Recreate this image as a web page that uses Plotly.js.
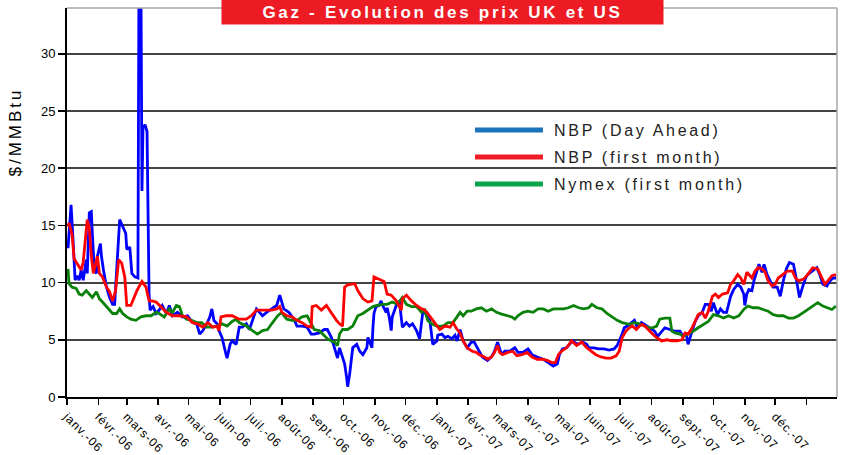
<!DOCTYPE html>
<html>
<head>
<meta charset="utf-8">
<script src="https://cdn.plot.ly/plotly-3.0.1.min.js"></script>
<style>
  html, body { margin: 0; padding: 0; background: #fff; }
  #chart { width: 844px; height: 455px; }
  g.annotation[data-index="0"] text { letter-spacing: 2.7px; }
  g.annotation[data-index="1"] text, g.annotation[data-index="1"] tspan { letter-spacing: 3px; }
  g.annotation[data-index="2"] text,
  g.annotation[data-index="3"] text,
  g.annotation[data-index="4"] text { letter-spacing: 2.7px; }
  .xtick text { letter-spacing: 1px; }
</style>
</head>
<body>
<div id="chart"></div>
<script>
// ---- Data ----
const tickDates = ['2006-01-01','2006-02-01','2006-03-01','2006-04-01','2006-05-01','2006-06-01','2006-07-01','2006-08-01','2006-09-01','2006-10-01','2006-11-01','2006-12-01',
  '2007-01-01','2007-02-01','2007-03-01','2007-04-01','2007-05-01','2007-06-01','2007-07-01','2007-08-01','2007-09-01','2007-10-01','2007-11-01','2007-12-01','2008-01-01'];
const tickLabels = ['janv.-06','févr.-06','mars-06','avr.-06','mai-06','juin-06','juil.-06','août-06','sept.-06','oct.-06','nov.-06','déc.-06',
  'janv.-07','févr.-07','mars-07','avr.-07','mai-07','juin-07','juil.-07','août-07','sept.-07','oct.-07','nov.-07','déc.-07','janv.-08'];
const yTicks = [0, 5, 10, 15, 20, 25, 30];

const seriesNames = ['NBP (Day Ahead)', 'NBP (first month)', 'Nymex (first month)'];

const blueDates = ['2006-01-02','2006-01-05','2006-01-07','2006-01-09','2006-01-11','2006-01-13','2006-01-15','2006-01-17','2006-01-20','2006-01-21','2006-01-23','2006-01-25','2006-01-26','2006-01-28','2006-01-30','2006-01-31',
  '2006-02-03','2006-02-04','2006-02-06','2006-02-09','2006-02-12','2006-02-15','2006-02-17','2006-02-19','2006-02-22','2006-02-25','2006-02-28',
  '2006-03-01','2006-03-04','2006-03-06','2006-03-09','2006-03-12','2006-03-13','2006-03-15','2006-03-16','2006-03-17','2006-03-19','2006-03-21','2006-03-22','2006-03-23','2006-03-24','2006-03-27','2006-03-30',
  '2006-04-02','2006-04-05','2006-04-09','2006-04-12','2006-04-15','2006-04-20','2006-04-25','2006-04-30',
  '2006-05-05','2006-05-09','2006-05-12','2006-05-15','2006-05-19','2006-05-22','2006-05-24','2006-05-26','2006-05-29','2006-05-31',
  '2006-06-03','2006-06-07','2006-06-08','2006-06-11','2006-06-13','2006-06-17','2006-06-20','2006-06-23','2006-06-27','2006-06-30',
  '2006-07-03','2006-07-07','2006-07-10','2006-07-13','2006-07-17','2006-07-22','2006-07-27','2006-07-30',
  '2006-08-01','2006-08-03','2006-08-08','2006-08-13','2006-08-16','2006-08-21','2006-08-26','2006-08-30',
  '2006-09-02','2006-09-07','2006-09-12','2006-09-15','2006-09-19','2006-09-22','2006-09-24','2006-09-25','2006-09-27','2006-09-29',
  '2006-10-02','2006-10-04','2006-10-05','2006-10-07','2006-10-09','2006-10-10','2006-10-14','2006-10-17','2006-10-20','2006-10-24','2006-10-25','2006-10-29','2006-10-30','2006-10-31',
  '2006-11-02','2006-11-05','2006-11-07','2006-11-08','2006-11-12','2006-11-13','2006-11-15','2006-11-17','2006-11-18','2006-11-22','2006-11-25','2006-11-28',
  '2006-12-02','2006-12-05','2006-12-08','2006-12-12','2006-12-15','2006-12-18','2006-12-22','2006-12-25','2006-12-28',
  '2007-01-01','2007-01-02','2007-01-06','2007-01-09','2007-01-12','2007-01-16','2007-01-19','2007-01-21','2007-01-24','2007-01-27','2007-01-31',
  '2007-02-04','2007-02-07','2007-02-10','2007-02-15','2007-02-20','2007-02-24','2007-02-27',
  '2007-03-02','2007-03-06','2007-03-09','2007-03-14','2007-03-19','2007-03-22','2007-03-27',
  '2007-04-01','2007-04-05','2007-04-10','2007-04-16','2007-04-21','2007-04-26','2007-04-30',
  '2007-05-02','2007-05-05','2007-05-09','2007-05-12','2007-05-15','2007-05-20','2007-05-25','2007-05-29','2007-05-31',
  '2007-06-05','2007-06-10','2007-06-15','2007-06-20','2007-06-25','2007-06-28',
  '2007-07-02','2007-07-05','2007-07-08','2007-07-12','2007-07-15','2007-07-18','2007-07-22','2007-07-25','2007-07-30',
  '2007-08-04','2007-08-07','2007-08-11','2007-08-14','2007-08-19','2007-08-24','2007-08-29',
  '2007-09-01','2007-09-04','2007-09-06','2007-09-09','2007-09-13','2007-09-16','2007-09-20','2007-09-23','2007-09-26','2007-09-29',
  '2007-10-01','2007-10-05','2007-10-08','2007-10-11','2007-10-14','2007-10-16','2007-10-18','2007-10-21','2007-10-25','2007-10-28','2007-10-31',
  '2007-11-01','2007-11-03','2007-11-05','2007-11-08','2007-11-10','2007-11-13','2007-11-15','2007-11-18','2007-11-20','2007-11-23','2007-11-26','2007-11-29',
  '2007-12-03','2007-12-06','2007-12-09','2007-12-12','2007-12-15','2007-12-19','2007-12-21','2007-12-23','2007-12-25','2007-12-28','2007-12-31',
  '2008-01-02','2008-01-07','2008-01-11','2008-01-14','2008-01-17','2008-01-21','2008-01-24','2008-01-27','2008-01-30'];
const blueVals = [13.0,16.8,13.7,10.2,10.6,10.2,11.1,10.2,12.0,10.8,16.1,16.2,14.3,11.1,10.8,12.3,
  13.4,12.3,11.1,9.6,8.7,8.1,8.1,10.8,15.5,14.9,14.3,
  12.9,13.1,10.8,10.5,10.4,36,36,18.0,23.5,23.8,23.2,14.0,9.0,7.6,7.9,7.3,
  7.6,8.0,7.3,8.0,7.1,7.4,7.0,7.1,
  6.5,6.4,5.5,5.8,6.4,7.0,7.7,6.7,6.4,5.8,
  5.2,3.7,3.4,4.6,4.9,4.6,6.1,6.1,6.4,5.9,
  6.7,7.7,7.4,7.1,7.4,7.7,8.0,8.9,
  8.3,7.7,7.4,6.8,6.2,6.2,6.1,5.5,
  5.5,5.6,5.9,5.9,5.2,4.3,3.6,3.4,4.3,3.7,
  2.9,1.7,0.9,2.0,4.0,4.3,4.6,4.0,3.7,4.3,5.2,4.3,6.1,7.3,
  7.9,8.0,8.4,8.1,7.4,7.8,7.0,5.8,7.0,8.0,8.4,6.1,
  6.5,6.2,6.4,5.8,5.1,7.3,7.4,6.8,4.6,
  4.9,5.4,5.5,5.2,5.3,5.1,5.4,4.9,5.9,4.9,4.3,
  4.8,4.8,4.3,3.5,3.2,3.5,4.0,
  4.8,3.7,4.0,4.0,4.3,3.9,3.9,
  4.2,3.7,3.5,3.3,3.0,2.7,2.9,
  3.7,4.2,4.3,4.6,4.9,4.6,4.8,4.6,4.3,
  4.3,4.2,4.2,4.1,4.2,4.5,
  5.3,6.05,6.2,6.5,6.7,6.05,6.5,6.35,6.05,
  5.75,5.3,5.75,6.05,5.9,5.75,5.75,
  5.3,5.6,4.6,5.5,6.6,7.1,7.4,8.1,8.1,7.5,
  8.25,7.2,7.7,7.4,7.4,8.1,8.8,9.4,9.85,9.6,9.0,
  8.0,9.0,9.4,9.3,10.15,11.0,11.6,10.9,11.6,10.7,10.15,9.6,
  9.6,8.8,10.15,11.2,11.75,11.6,10.7,9.6,8.7,9.6,10.4,
  10.7,11.0,11.3,10.7,9.85,9.7,10.15,10.4,10.4];

const redDates = ['2006-01-02','2006-01-03','2006-01-06','2006-01-08','2006-01-10','2006-01-12','2006-01-15','2006-01-17','2006-01-19','2006-01-21','2006-01-23','2006-01-25','2006-01-27','2006-01-29','2006-01-31',
  '2006-02-02','2006-02-05','2006-02-09','2006-02-12','2006-02-15','2006-02-18','2006-02-21','2006-02-24','2006-02-27',
  '2006-03-01','2006-03-05','2006-03-08','2006-03-11','2006-03-16','2006-03-20','2006-03-23','2006-03-26','2006-03-30',
  '2006-04-02','2006-04-09','2006-04-15','2006-04-22','2006-04-29',
  '2006-05-05','2006-05-10','2006-05-15','2006-05-20','2006-05-25','2006-05-29','2006-05-31',
  '2006-06-02','2006-06-07','2006-06-13','2006-06-20','2006-06-27',
  '2006-07-02','2006-07-07','2006-07-12','2006-07-17','2006-07-22','2006-07-27','2006-07-30',
  '2006-08-01','2006-08-06','2006-08-11','2006-08-16','2006-08-21','2006-08-26','2006-08-30','2006-08-31',
  '2006-09-04','2006-09-09','2006-09-14','2006-09-19','2006-09-24','2006-09-27','2006-09-30',
  '2006-10-02','2006-10-05','2006-10-12','2006-10-15','2006-10-20','2006-10-25','2006-10-29','2006-10-30','2006-10-31',
  '2006-11-05','2006-11-10','2006-11-13','2006-11-17','2006-11-22','2006-11-27','2006-11-28',
  '2006-12-02','2006-12-07','2006-12-12','2006-12-17','2006-12-20','2006-12-23','2006-12-27',
  '2007-01-01','2007-01-04','2007-01-09','2007-01-14','2007-01-17','2007-01-21','2007-01-24','2007-01-27','2007-01-31',
  '2007-02-02','2007-02-05','2007-02-09','2007-02-12','2007-02-17','2007-02-20','2007-02-24','2007-02-27',
  '2007-03-02','2007-03-04','2007-03-07','2007-03-12','2007-03-17','2007-03-21','2007-03-26','2007-03-31',
  '2007-04-05','2007-04-10','2007-04-15','2007-04-20','2007-04-25','2007-04-28',
  '2007-05-01','2007-05-04','2007-05-09','2007-05-14','2007-05-19','2007-05-24','2007-05-29',
  '2007-06-02','2007-06-07','2007-06-12','2007-06-17','2007-06-22','2007-06-27','2007-06-30',
  '2007-07-03','2007-07-07','2007-07-10','2007-07-13','2007-07-17','2007-07-20','2007-07-23','2007-07-27','2007-07-30',
  '2007-08-02','2007-08-06','2007-08-11','2007-08-16','2007-08-21','2007-08-26','2007-08-31',
  '2007-09-03','2007-09-06','2007-09-10','2007-09-13','2007-09-16','2007-09-20','2007-09-23','2007-09-26','2007-09-30',
  '2007-10-03','2007-10-06','2007-10-10','2007-10-15','2007-10-18','2007-10-21','2007-10-25','2007-10-28','2007-10-31',
  '2007-11-03','2007-11-08','2007-11-11','2007-11-14','2007-11-18','2007-11-21','2007-11-24','2007-11-28',
  '2007-12-01','2007-12-04','2007-12-08','2007-12-13','2007-12-18','2007-12-21','2007-12-24','2007-12-29',
  '2008-01-02','2008-01-07','2008-01-12','2008-01-16','2008-01-19','2008-01-22','2008-01-26','2008-01-30'];
const redVals = [14.9,15.2,14.2,12.1,11.8,11.5,11.1,11.8,13.7,15.5,14.8,12.3,10.8,11.7,12.3,
  10.8,10.5,9.6,9.2,8.4,9.3,12.0,11.7,10.5,
  8.0,8.0,8.7,9.3,10.1,9.6,8.4,8.4,8.3,
  8.0,7.4,7.1,7.1,7.0,
  6.5,6.4,6.1,6.5,6.1,6.2,5.8,
  7.0,7.1,7.1,6.8,6.8,
  7.1,7.6,7.6,7.6,7.6,7.7,7.9,
  7.4,7.1,7.0,6.7,6.5,6.2,6.1,7.9,
  8.0,7.6,8.0,7.3,6.7,6.4,6.2,
  9.6,9.8,9.9,9.3,8.6,8.3,8.4,9.3,10.5,
  10.3,10.1,9.0,8.9,8.4,7.6,8.6,
  8.9,8.4,8.0,7.7,7.6,7.3,6.8,
  6.2,5.9,6.2,6.1,6.5,5.9,5.6,4.9,4.3,
  4.2,4.0,3.9,3.7,3.5,3.3,3.5,3.9,
  4.5,3.9,3.7,3.9,4.0,3.6,3.7,3.9,
  3.5,3.3,3.3,3.2,3.0,3.0,
  3.7,4.0,4.3,4.9,4.5,4.8,4.3,
  4.0,3.7,3.5,3.4,3.4,3.6,4.0,
  5.2,5.8,6.05,6.2,5.9,6.2,6.35,6.05,5.75,
  5.5,5.2,4.9,5.0,4.9,4.9,5.0,
  5.6,5.5,6.05,6.6,7.2,7.4,6.9,7.5,8.8,
  9.0,8.7,9.0,9.1,9.85,10.15,10.7,10.4,9.85,
  10.9,10.4,11.0,11.3,11.2,10.9,10.15,9.7,
  9.85,10.4,10.7,11.0,11.0,10.4,10.15,10.3,
  10.7,11.3,11.2,10.4,9.85,10.15,10.6,10.7];

const greenDates = ['2006-01-02','2006-01-03','2006-01-06','2006-01-10','2006-01-13','2006-01-16','2006-01-20','2006-01-23','2006-01-26','2006-01-30',
  '2006-02-02','2006-02-05','2006-02-09','2006-02-12','2006-02-15','2006-02-19','2006-02-22','2006-02-25',
  '2006-03-01','2006-03-05','2006-03-10','2006-03-15','2006-03-20','2006-03-25','2006-03-30',
  '2006-04-02','2006-04-07','2006-04-12','2006-04-15','2006-04-19','2006-04-22','2006-04-25','2006-04-29',
  '2006-05-04','2006-05-09','2006-05-14','2006-05-19','2006-05-24','2006-05-29',
  '2006-06-03','2006-06-08','2006-06-13','2006-06-17','2006-06-20','2006-06-27',
  '2006-07-03','2006-07-08','2006-07-13','2006-07-18','2006-07-22','2006-07-25','2006-07-28',
  '2006-08-01','2006-08-03','2006-08-06','2006-08-11','2006-08-16','2006-08-21','2006-08-26','2006-08-30',
  '2006-09-02','2006-09-07','2006-09-12','2006-09-15','2006-09-19','2006-09-22','2006-09-25','2006-09-27','2006-09-30',
  '2006-10-05','2006-10-10','2006-10-15','2006-10-20','2006-10-25','2006-10-30',
  '2006-11-03','2006-11-08','2006-11-13','2006-11-18','2006-11-23','2006-11-28',
  '2006-12-02','2006-12-07','2006-12-12','2006-12-17','2006-12-20','2006-12-23','2006-12-27',
  '2007-01-01','2007-01-07','2007-01-12','2007-01-17','2007-01-21','2007-01-24','2007-01-27','2007-01-31',
  '2007-02-04','2007-02-09','2007-02-14','2007-02-19','2007-02-24',
  '2007-03-01','2007-03-06','2007-03-11','2007-03-16','2007-03-19','2007-03-22','2007-03-27',
  '2007-04-01','2007-04-06','2007-04-11','2007-04-16','2007-04-21','2007-04-26',
  '2007-05-01','2007-05-06','2007-05-11','2007-05-16','2007-05-21','2007-05-26','2007-05-31',
  '2007-06-03','2007-06-08','2007-06-13','2007-06-18','2007-06-23','2007-06-28',
  '2007-07-03','2007-07-10','2007-07-15','2007-07-20','2007-07-25','2007-07-30',
  '2007-08-02','2007-08-06','2007-08-09','2007-08-14','2007-08-19','2007-08-21','2007-08-24','2007-08-29',
  '2007-09-01','2007-09-06','2007-09-11','2007-09-16','2007-09-21','2007-09-26',
  '2007-10-01','2007-10-06','2007-10-11','2007-10-16','2007-10-21','2007-10-26','2007-10-31',
  '2007-11-04','2007-11-09','2007-11-14','2007-11-19','2007-11-24','2007-11-29',
  '2007-12-04','2007-12-09','2007-12-14','2007-12-19','2007-12-24','2007-12-29',
  '2008-01-02','2008-01-07','2008-01-12','2008-01-17','2008-01-22','2008-01-26','2008-01-30'];
const greenVals = [11.2,9.9,9.6,9.5,9.0,8.9,9.3,9.0,8.7,9.2,
  8.6,8.3,7.9,7.6,7.3,7.3,7.7,7.3,
  7.0,6.8,6.7,7.0,7.1,7.1,7.4,
  7.3,7.0,7.7,7.4,8.0,7.9,7.1,6.8,
  6.7,6.5,6.5,6.1,6.1,6.2,
  6.4,6.2,6.6,6.8,6.5,6.2,
  5.8,5.5,5.8,5.9,6.4,6.8,7.1,
  7.4,7.1,6.8,6.7,6.7,7.0,7.1,6.4,
  5.9,5.8,5.4,5.1,4.9,4.8,4.5,5.5,5.9,
  5.9,6.2,7.1,7.3,7.6,7.9,
  8.0,8.1,8.1,8.3,8.1,8.7,
  8.1,7.9,7.9,7.4,7.6,6.7,6.4,
  6.2,6.2,6.5,6.5,7.0,7.4,7.1,7.5,
  7.5,7.7,7.8,7.5,7.7,
  7.4,7.25,7.1,7.0,6.8,7.1,7.4,
  7.5,7.4,7.7,7.7,7.5,7.7,
  7.7,7.7,7.8,8.0,7.8,7.7,7.8,
  8.1,7.8,7.7,7.3,7.0,6.7,
  6.5,6.35,6.5,6.4,6.2,6.05,
  6.05,6.2,6.8,6.9,6.9,5.75,5.6,5.5,
  5.3,5.5,5.75,6.05,6.35,6.6,
  7.2,7.1,6.9,7.1,6.9,7.1,7.65,
  7.95,7.8,7.8,7.65,7.5,7.2,
  7.1,7.1,6.9,6.9,7.1,7.4,
  7.65,7.95,8.25,7.95,7.8,7.65,7.95];

// ---- Chart ----
const FONT = '"Liberation Sans", Arial, sans-serif';
const lineColors = ['#0000ff', '#ff0000', '#0a820a'];
const legendColors = ['#1a73bb', '#ee1c25', '#0aa34a'];

const traces = [
  {x: blueDates, y: blueVals, name: seriesNames[0], type: 'scatter', mode: 'lines', line: {color: lineColors[0], width: 2.8}},
  {x: greenDates, y: greenVals, name: seriesNames[2], type: 'scatter', mode: 'lines', line: {color: lineColors[2], width: 2.8}},
  {x: redDates, y: redVals, name: seriesNames[1], type: 'scatter', mode: 'lines', line: {color: lineColors[1], width: 2.8}}
];

const L = 67, R = 7, T = 8, B = 58, W = 844, H = 455;
const pw = W - L - R, ph = H - T - B;
const px = v => (v - L) / pw;
const py = v => (H - B - v) / ph;

const legendRows = [130, 157, 184];
const shapes = [
  {type: 'line', xref: 'paper', yref: 'paper', x0: 0, x1: 1, y0: 1, y1: 1, line: {color: '#a6a6a6', width: 1.5}},
  {type: 'line', xref: 'paper', yref: 'paper', x0: 1, x1: 1, y0: 0, y1: 1, line: {color: '#a6a6a6', width: 1.5}}
];
const annotations = [
  {xref: 'paper', yref: 'paper', x: px(442.5), y: py(12), xanchor: 'center', yanchor: 'middle',
   text: 'Gaz - Evolution des prix UK et US', showarrow: false, bgcolor: '#ed1c24', width: 441, height: 24, borderpad: 0,
   font: {family: FONT, size: 17, color: '#ffffff', weight: 'bold'}},
  {xref: 'paper', yref: 'paper', x: px(15), y: py(132), xanchor: 'center', yanchor: 'middle', textangle: -90,
   text: '$/MMBtu', showarrow: false, font: {family: FONT, size: 17, color: '#000'}}
];
seriesNames.forEach((nm, i) => {
  shapes.push({type: 'line', xref: 'paper', yref: 'paper', x0: px(475), x1: px(543), y0: py(legendRows[i]), y1: py(legendRows[i]),
    line: {color: legendColors[i], width: 5}});
  annotations.push({xref: 'paper', yref: 'paper', x: px(552), y: py(legendRows[i]), xanchor: 'left', yanchor: 'middle', align: 'left',
    text: nm, showarrow: false, font: {family: FONT, size: 16, color: '#222'}});
});

const layout = {
  width: W, height: H,
  margin: {l: L, r: R, t: T, b: B},
  paper_bgcolor: '#ffffff', plot_bgcolor: '#ffffff',
  showlegend: false,
  font: {family: FONT, color: '#000'},
  xaxis: {
    type: 'date', range: ['2006-01-01', '2008-01-31'],
    tickmode: 'array', tickvals: tickDates, ticktext: tickLabels, tickangle: 45,
    ticks: 'outside', ticklen: 6, tickwidth: 1.5, tickcolor: '#000',
    showgrid: false, zeroline: false,
    showline: true, linecolor: '#000', linewidth: 2,
    tickfont: {family: FONT, size: 12, color: '#000'}
  },
  yaxis: {
    range: [0, 34], tickmode: 'array', tickvals: yTicks,
    ticks: 'outside', ticklen: 7, tickwidth: 1.5, tickcolor: '#000',
    showgrid: true, gridcolor: '#444', gridwidth: 2, zeroline: false,
    showline: true, linecolor: '#000', linewidth: 2,
    tickfont: {family: FONT, size: 13, color: '#000'}
  },
  shapes: shapes,
  annotations: annotations
};

Plotly.newPlot('chart', traces, layout, {displayModeBar: false, staticPlot: true}).then(() => {
  document.querySelectorAll('g.annotation').forEach(g => {
    const t = g.querySelector('text');
    if (t && t.textContent === '$/MMBtu') t.style.letterSpacing = '3px';
  });
});
</script>
</body>
</html>
